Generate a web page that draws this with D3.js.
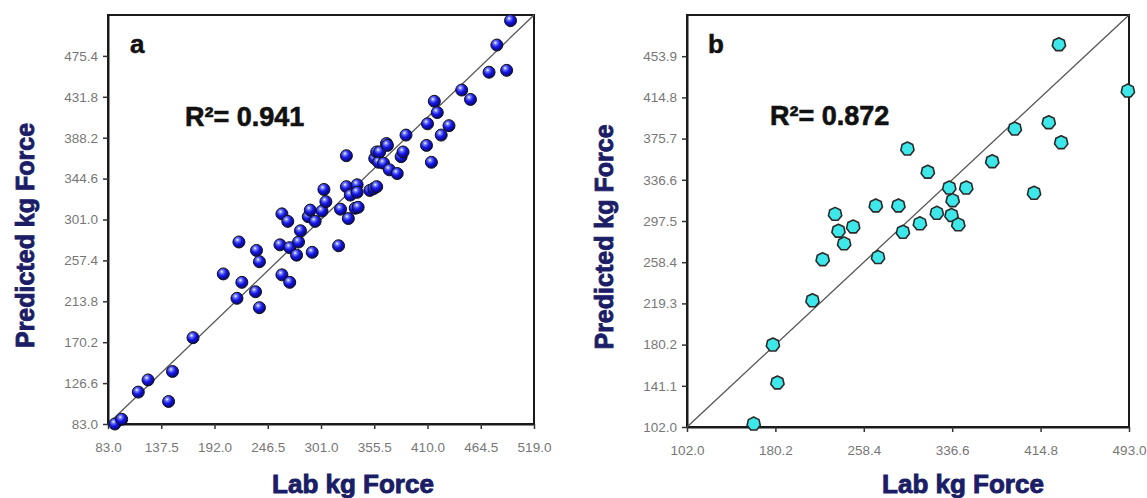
<!DOCTYPE html>
<html>
<head>
<meta charset="utf-8">
<script src="https://cdn.jsdelivr.net/npm/d3@7"></script>
<style>
  body { margin: 0; background: #fff; }
  svg { display: block; }
</style>
</head>
<body>
<svg id="chart" width="1147" height="498"></svg>
<script>
// panel a: lab vs predicted (training)
const labA = [90, 97, 114, 124, 145, 149, 170, 201, 215, 217, 220, 234, 235, 238, 238,
  259, 261, 261, 267, 269, 269, 276, 278, 280, 288, 290, 292, 295, 302, 304, 306,
  319, 321, 327, 327, 329, 331, 336, 338, 338, 339, 351, 355, 356, 358, 358, 360,
  361, 365, 368, 369, 371, 379, 383, 385, 388, 409, 410, 414, 417, 420, 424, 432,
  445, 454, 473, 481, 491, 495];
const predA = [83, 88, 117, 130, 107, 139, 175, 243, 217, 277, 234, 224, 268, 256, 207,
  274, 307, 242, 299, 234, 271, 263, 277, 289, 304, 311, 266, 299, 310, 333, 320,
  273, 312, 336, 369, 302, 327, 313, 338, 330, 314, 332, 334, 366, 336, 373, 362,
  373, 361, 382, 380, 354, 350, 368, 373, 391, 380, 403, 362, 427, 415, 391, 401,
  439, 429, 458, 487, 460, 513];

// panel b: lab vs predicted (test)
const labB = [431, 492, 422, 392, 433, 297, 372, 315, 409, 334, 349, 337, 269, 289,
  233, 323, 336, 249, 236, 308, 342, 293, 241, 271, 222, 213, 178, 182, 161];
const predB = [465, 421, 391, 385, 372, 366, 354, 344, 324, 329, 329, 317, 312, 312,
  304, 305, 303, 292, 288, 295, 294, 287, 276, 263, 261, 222, 180, 144, 105];

const ticksAX = [83.0, 137.5, 192.0, 246.5, 301.0, 355.5, 410.0, 464.5, 519.0];
const ticksAY = [83.0, 126.6, 170.2, 213.8, 257.4, 301.0, 344.6, 388.2, 431.8, 475.4];
const ticksBX = [102.0, 180.2, 258.4, 336.6, 414.8, 493.0];
const ticksBY = [102.0, 141.1, 180.2, 219.3, 258.4, 297.5, 336.6, 375.7, 414.8, 453.9];

const navy = "#1b1d66";
const svg = d3.select("#chart");

const defs = svg.append("defs");
const grad = defs.append("radialGradient")
  .attr("id", "ball")
  .attr("cx", "38%").attr("cy", "32%").attr("r", "65%");
grad.append("stop").attr("offset", "0%").attr("stop-color", "#ffffff");
grad.append("stop").attr("offset", "22%").attr("stop-color", "#6f7bff");
grad.append("stop").attr("offset", "55%").attr("stop-color", "#1616e6");
grad.append("stop").attr("offset", "100%").attr("stop-color", "#08087a");

function polygon(n, r) {
  const pts = d3.range(n).map(i => {
    const a = -Math.PI / 2 + i * 2 * Math.PI / n;
    return [r * Math.cos(a), r * Math.sin(a)];
  });
  return d3.line().curve(d3.curveLinearClosed)(pts);
}

const panels = [
  {
    letter: "a", r2: "R\u00b2= 0.941",
    lab: labA, pred: predA,
    dom: [83, 519], tx: ticksAX, ty: ticksAY,
    box: { left: 108, right: 534, top: 15, bottom: 424 },
    yTitleX: 34, xTitleX: 353,
    letterPos: [130, 53], r2Pos: [185, 126],
    marker: "ball"
  },
  {
    letter: "b", r2: "R\u00b2= 0.872",
    lab: labB, pred: predB,
    dom: [102, 493], tx: ticksBX, ty: ticksBY,
    box: { left: 687, right: 1129, top: 15, bottom: 427 },
    yTitleX: 613, xTitleX: 963,
    letterPos: [708, 53], r2Pos: [770, 125],
    marker: "poly"
  }
];

panels.forEach(p => {
  const b = p.box;
  const x = d3.scaleLinear().domain(p.dom).range([b.left, b.right]);
  const y = d3.scaleLinear().domain(p.dom).range([b.bottom, b.top]);
  const g = svg.append("g");

  // frame
  g.append("rect")
    .attr("x", b.left).attr("y", b.top)
    .attr("width", b.right - b.left).attr("height", b.bottom - b.top)
    .attr("fill", "none").attr("stroke", "#1a1a1a").attr("stroke-width", 2);

  // axes
  const gx = g.append("g")
    .attr("transform", `translate(0,${b.bottom})`)
    .call(d3.axisBottom(x).tickValues(p.tx).tickFormat(d3.format(".1f"))
      .tickSize(5).tickSizeOuter(0).tickPadding(13));
  const gy = g.append("g")
    .attr("transform", `translate(${b.left},0)`)
    .call(d3.axisLeft(y).tickValues(p.ty).tickFormat(d3.format(".1f"))
      .tickSize(5).tickSizeOuter(0).tickPadding(5));
  [gx, gy].forEach(ax => {
    ax.select(".domain").attr("stroke", "#1a1a1a").attr("stroke-width", 2);
    ax.selectAll(".tick line").attr("stroke", "#333").attr("stroke-width", 1.5);
    ax.selectAll(".tick text")
      .attr("fill", "#777")
      .style("font-family", "'Liberation Sans Narrow', 'Liberation Sans', Arial, sans-serif")
      .style("font-size", "13.5px");
  });

  // 1:1 line
  g.append("line")
    .attr("x1", x(p.dom[0])).attr("y1", y(p.dom[0]))
    .attr("x2", x(p.dom[1])).attr("y2", y(p.dom[1]))
    .attr("stroke", "#555").attr("stroke-width", 1.3);

  // points
  const data = p.lab.map((v, i) => ({ lab: v, pred: p.pred[i] }));
  if (p.marker === "ball") {
    g.append("g").selectAll("circle")
      .data(data)
      .join("circle")
      .attr("cx", d => x(d.lab))
      .attr("cy", d => y(d.pred))
      .attr("r", 6)
      .attr("fill", "url(#ball)")
      .attr("stroke", "#111")
      .attr("stroke-width", 1);
  } else {
    const shape = polygon(7, 6.8);
    g.append("g").selectAll("path")
      .data(data)
      .join("path")
      .attr("transform", d => `translate(${x(d.lab)},${y(d.pred)})`)
      .attr("d", shape)
      .attr("fill", "#3ee8ea")
      .attr("stroke", "#2a2a2a")
      .attr("stroke-width", 1.6)
      .attr("stroke-linejoin", "round");
  }

  // labels
  const bold = "'Liberation Sans', Arial, sans-serif";
  g.append("text")
    .attr("x", p.letterPos[0]).attr("y", p.letterPos[1])
    .style("font-family", bold).style("font-weight", "bold").style("font-size", "26px")
    .attr("fill", "#111").attr("stroke", "#111").attr("stroke-width", 0.5)
    .text(p.letter);
  g.append("text")
    .attr("x", p.r2Pos[0]).attr("y", p.r2Pos[1])
    .style("font-family", bold).style("font-weight", "bold").style("font-size", "27px")
    .attr("fill", "#111").attr("stroke", "#111").attr("stroke-width", 0.6)
    .text(p.r2);

  g.append("text")
    .attr("transform", `translate(${p.yTitleX},${(b.top + b.bottom) / 2 + 16}) rotate(-90)`)
    .attr("text-anchor", "middle")
    .style("font-family", bold).style("font-weight", "bold").style("font-size", "25px")
    .attr("fill", navy).attr("stroke", navy).attr("stroke-width", 0.9)
    .text("Predicted kg Force");
  g.append("text")
    .attr("x", p.xTitleX).attr("y", 493)
    .attr("text-anchor", "middle")
    .style("font-family", bold).style("font-weight", "bold").style("font-size", "26px")
    .attr("fill", navy).attr("stroke", navy).attr("stroke-width", 0.9)
    .text("Lab kg Force");
});
</script>
</body>
</html>
